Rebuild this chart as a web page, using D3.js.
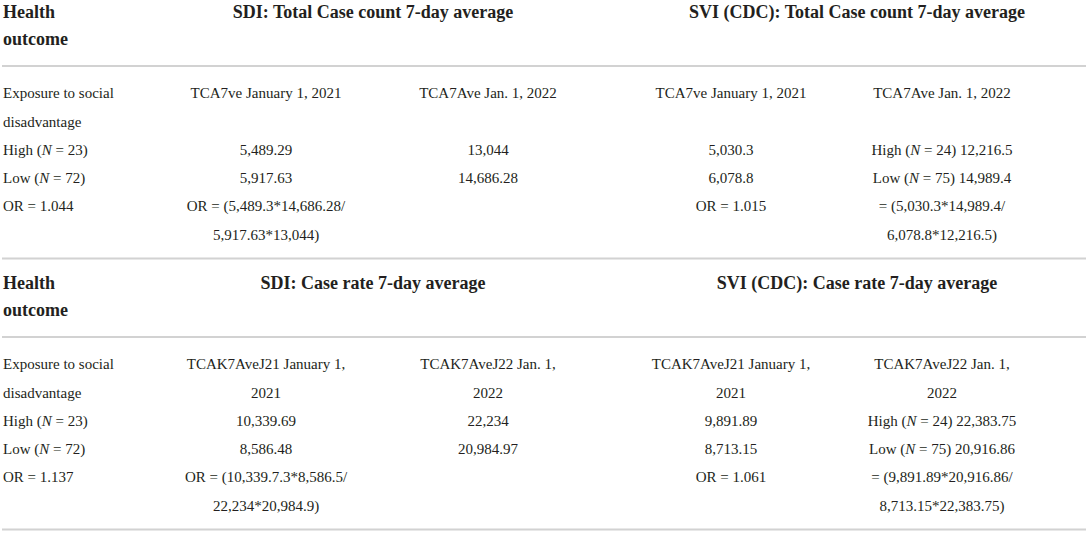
<!DOCTYPE html>
<html>
<head>
<meta charset="utf-8">
<script src="https://cdn.jsdelivr.net/npm/d3@7"></script>
<style>
  body { margin: 0; background: #fff; }
  svg { display: block; font-family: "Liberation Serif", "Times New Roman", serif; fill: #231f20; }
  .hd { font-size: 18px; font-weight: bold; }
  .cell { font-size: 15px; }
  .rule { stroke: #d2d2d2; stroke-width: 1.8; }
</style>
</head>
<body>
<svg width="1089" height="533"></svg>
<script>
// section titles
const rowHeader = ["Health", "outcome"];
const sectionTitles = [
  ["SDI: Total Case count 7-day average", "SVI (CDC): Total Case count 7-day average"],
  ["SDI: Case rate 7-day average", "SVI (CDC): Case rate 7-day average"]
];

// first column (row labels), *N* = italic
const rowLabels = [
  ["Exposure to social", "disadvantage", "High (*N* = 23)", "Low (*N* = 72)", "OR = 1.044", ""],
  ["Exposure to social", "disadvantage", "High (*N* = 23)", "Low (*N* = 72)", "OR = 1.137", ""]
];

// column headings, split on the wrapped line
const colHeads = [
  [["TCA7ve January 1, 2021", ""], ["TCA7Ave Jan. 1, 2022", ""], ["TCA7ve January 1, 2021", ""], ["TCA7Ave Jan. 1, 2022", ""]],
  [["TCAK7AveJ21 January 1,", "2021"], ["TCAK7AveJ22 Jan. 1,", "2022"], ["TCAK7AveJ21 January 1,", "2021"], ["TCAK7AveJ22 Jan. 1,", "2022"]]
];

// values: [high, low]
const sdiCountJ21 = [5489.29, 5917.63];
const sdiCountJ22 = [13044, 14686.28];
const sviCountJ21 = [5030.3, 6078.8];
const sviCountJ22 = [12216.5, 14989.4];
const sdiRateJ21 = [10339.69, 8586.48];
const sdiRateJ22 = [22234, 20984.97];
const sviRateJ21 = [9891.89, 8713.15];
const sviRateJ22 = [22383.75, 20916.86];
const sviGroups = ["High (*N* = 24) ", "Low (*N* = 75) "];

// odds ratio lines printed under the values
const orLines = [
  [["OR = (5,489.3*14,686.28/", "5,917.63*13,044)"], ["", ""], ["OR = 1.015", ""], ["= (5,030.3*14,989.4/", "6,078.8*12,216.5)"]],
  [["OR = (10,339.7.3*8,586.5/", "22,234*20,984.9)"], ["", ""], ["OR = 1.061", ""], ["= (9,891.89*20,916.86/", "8,713.15*22,383.75)"]]
];

const values = [
  [sdiCountJ21, sdiCountJ22, sviCountJ21, sviCountJ22],
  [sdiRateJ21, sdiRateJ22, sviRateJ21, sviRateJ22]
];

const fmt = d3.format(",");
const svg = d3.select("svg");

// layout
const sectionY = d3.scaleLinear().domain([0, 1]).range([0, 271]);
const rowY = d3.scaleLinear().domain([0, 5]).range([93, 234.5]);
const headY = d3.scaleLinear().domain([0, 1]).range([12, 39]);
const colX = d3.scaleOrdinal().domain([0, 1, 2, 3]).range([266, 488, 731, 942]);
const titleX = d3.scaleOrdinal().domain([0, 1]).range([373, 857]);
const ruleX = [2, 1086];

// writes text with *x* parts as italic tspans
function richText(sel, str) {
  str.split("*").forEach((part, i) => {
    if (!part) return;
    sel.append("tspan").attr("font-style", i % 2 ? "italic" : null).text(part);
  });
}

// italic marker only for N, keep the multiply stars plain
function cellText(sel, str) {
  if (str.includes("*N*")) richText(sel, str);
  else sel.text(str);
}

function buildColumn(s, c) {
  const v = values[s][c];
  const lines = colHeads[s][c].slice();
  if (c === 3) lines.push(sviGroups[0] + fmt(v[0]), sviGroups[1] + fmt(v[1]));
  else lines.push(fmt(v[0]), fmt(v[1]));
  return lines.concat(orLines[s][c]);
}

[0, 1].forEach(s => {
  const g = svg.append("g").attr("transform", `translate(0,${sectionY(s)})`);

  g.selectAll("text.hd-row")
    .data(rowHeader)
    .enter().append("text")
    .attr("class", "hd hd-row")
    .attr("x", 3)
    .attr("y", (d, i) => headY(i))
    .attr("dy", "0.35em")
    .text(d => d);

  g.selectAll("text.hd-title")
    .data(sectionTitles[s])
    .enter().append("text")
    .attr("class", "hd hd-title")
    .attr("x", (d, i) => titleX(i))
    .attr("y", headY(0))
    .attr("dy", "0.35em")
    .attr("text-anchor", "middle")
    .text(d => d);

  g.selectAll("line.rule")
    .data([66, 258.5])
    .enter().append("line")
    .attr("class", "rule")
    .attr("x1", ruleX[0]).attr("x2", ruleX[1])
    .attr("y1", d => d).attr("y2", d => d);

  g.selectAll("text.lab")
    .data(rowLabels[s])
    .enter().append("text")
    .attr("class", "cell lab")
    .attr("x", 3)
    .attr("y", (d, i) => rowY(i))
    .attr("dy", "0.35em")
    .each(function(d) { richText(d3.select(this), d); });

  [0, 1, 2, 3].forEach(c => {
    g.append("g").selectAll("text")
      .data(buildColumn(s, c))
      .enter().append("text")
      .attr("class", "cell")
      .attr("x", colX(c))
      .attr("y", (d, i) => rowY(i))
      .attr("dy", "0.35em")
      .attr("text-anchor", "middle")
      .each(function(d) { cellText(d3.select(this), d); });
  });
});
</script>
</body>
</html>
